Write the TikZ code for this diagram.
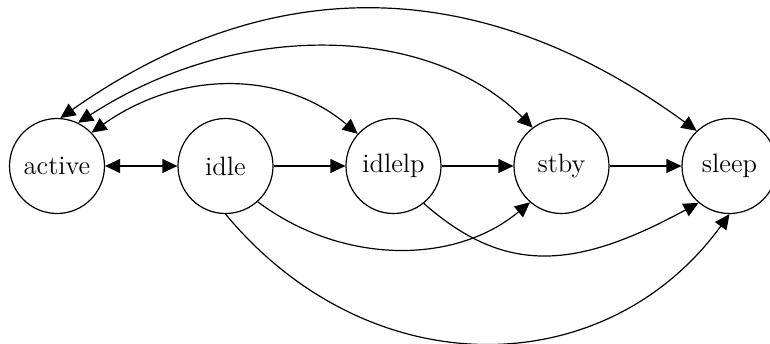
\documentclass[tikz,border=0pt]{standalone}
\usetikzlibrary{arrows.meta}
\begin{document}
\begin{tikzpicture}[x=0.5pt,y=-0.5pt,
  state/.style={circle,draw,line width=0.6pt,minimum size=47.5pt,inner sep=0pt,
    font=\fontsize{13.3}{16}\selectfont},
  tip/.tip={Triangle[length=7.5pt,width=7pt]},
  edge/.style={line width=0.6pt,-tip},
  biedge/.style={line width=0.6pt,tip-tip}]
\useasboundingbox (0,0) rectangle (770,343);
\node[state] (active) at (57,166) {active};
\node[state] (idle) at (225.5,166) {idle};
\node[state] (idlelp) at (393.5,166) {idlelp};
\node[state] (stby) at (561.5,166) {stby};
\node[state] (sleep) at (729.5,166) {sleep};
% straight transitions
\draw[biedge] (active) -- (idle);
\draw[edge] (idle) -- (idlelp);
\draw[edge] (idlelp) -- (stby);
\draw[edge] (stby) -- (sleep);
% arcs above
\draw[biedge] (active.44) .. controls (180,70) and (282,70) .. (idlelp.138);
\draw[biedge] (active.64) .. controls (240,18) and (430,25) .. (stby.127);
\draw[biedge] (active.86) .. controls (280,-36) and (490,-20) .. (sleep.133);
% arcs below
\draw[edge] (idle.-48) .. controls (342,265) and (455,265) .. (stby.-131);
\draw[edge] (idlelp.-51) .. controls (505,275) and (575,270) .. (sleep.-130);
\draw[edge] (idle.-90) .. controls (370,388) and (606,384) .. (sleep.-90);
\end{tikzpicture}
\end{document}
